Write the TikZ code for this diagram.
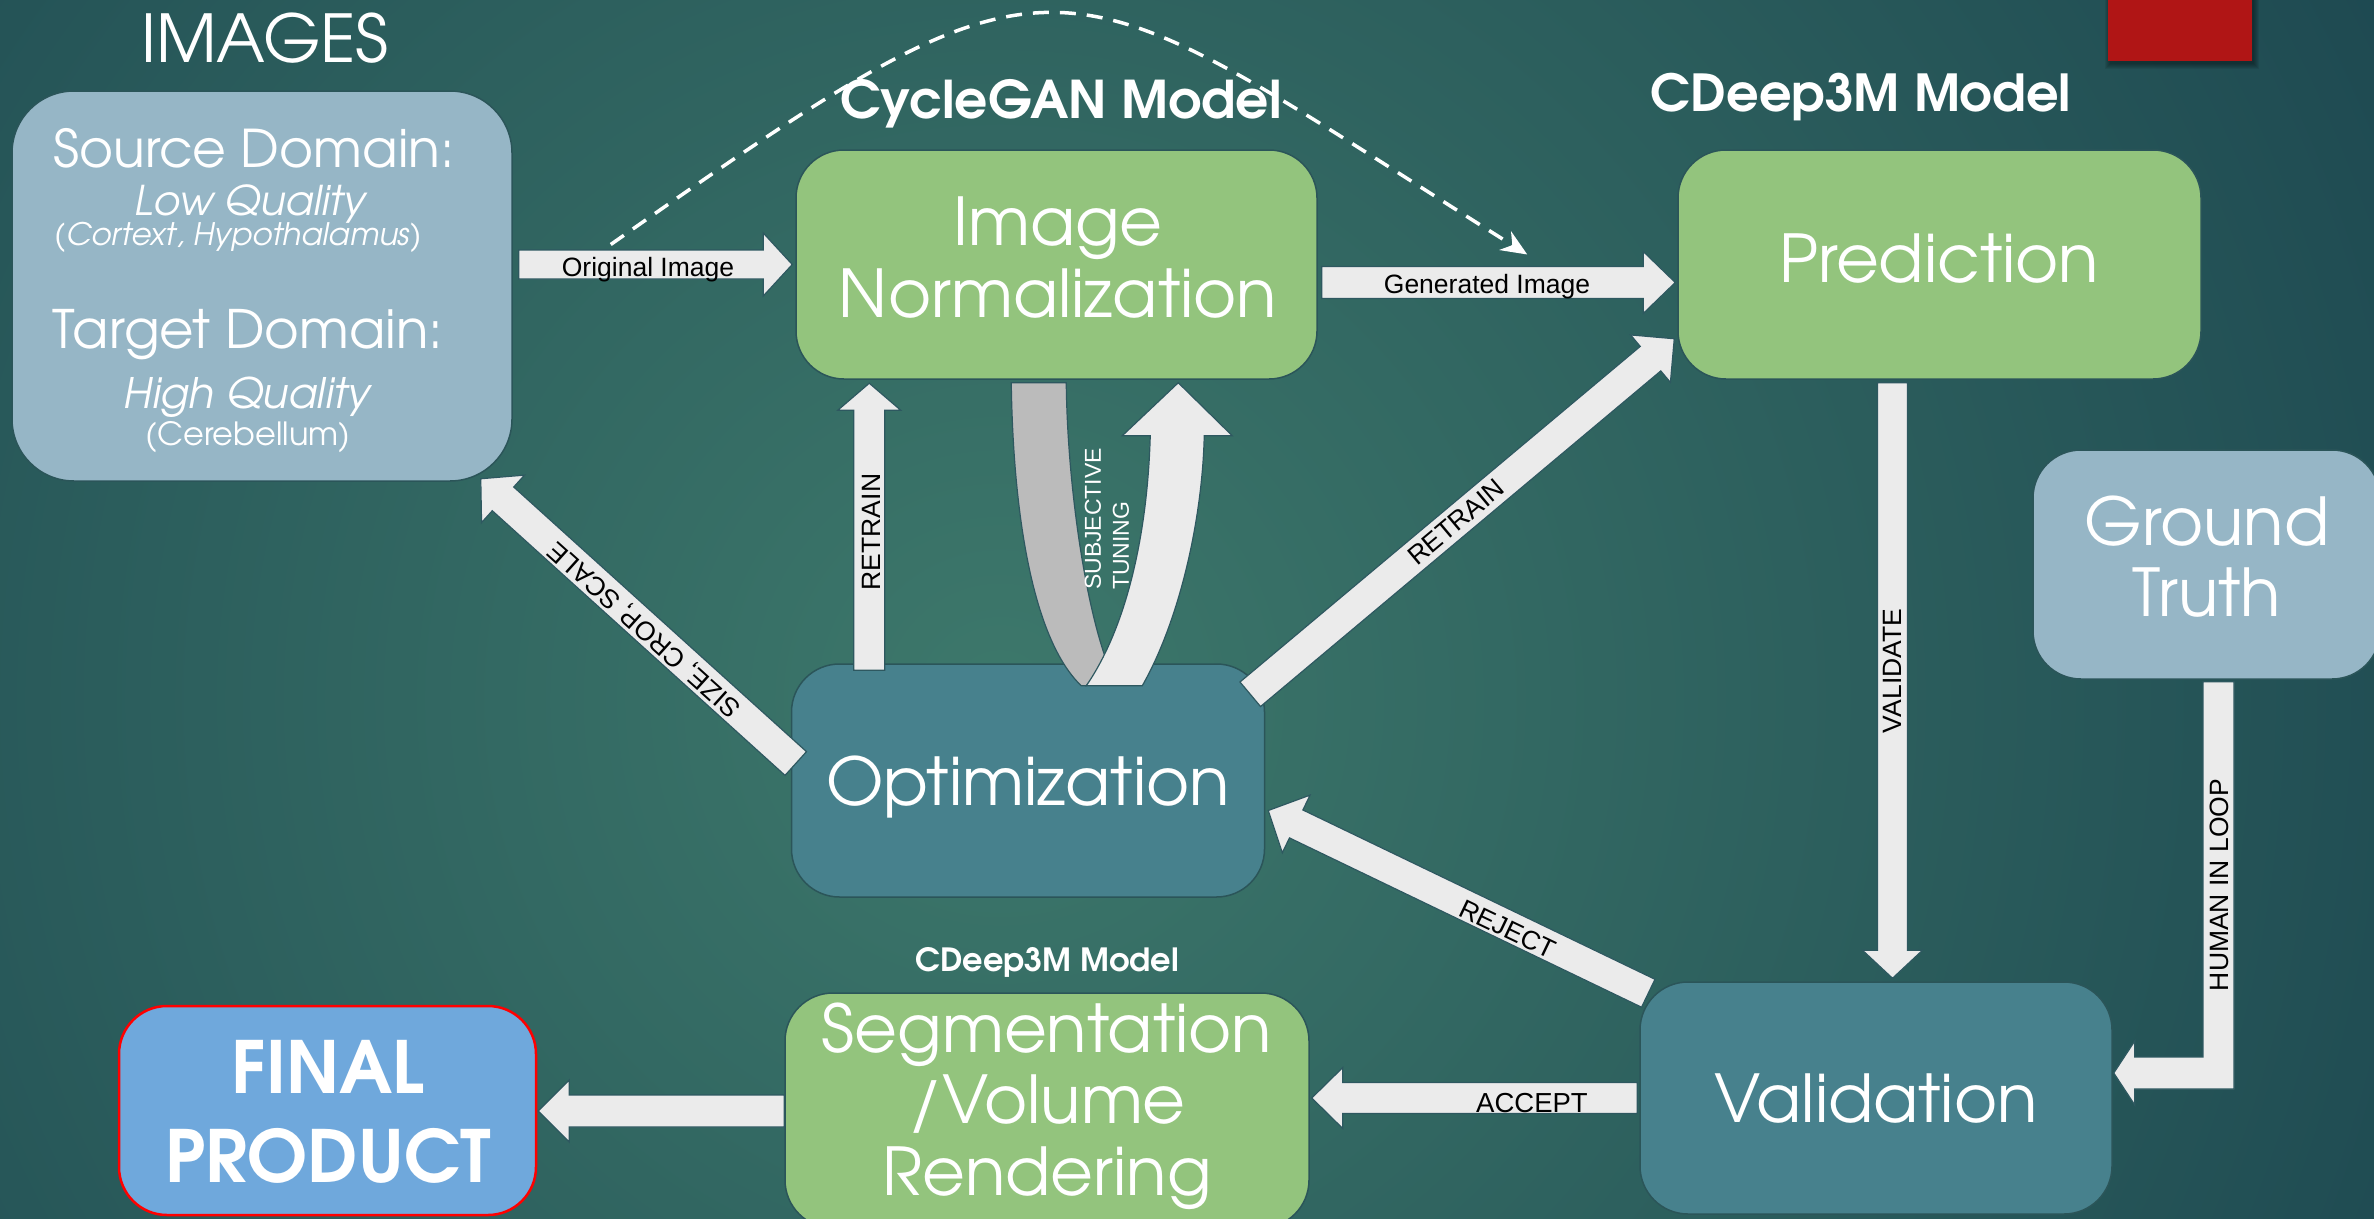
\documentclass[tikz,border=0pt]{standalone}
\usepackage{fontspec}
\setmainfont{texgyreadventor}[Extension=.otf, UprightFont=*-regular, BoldFont=*-bold, ItalicFont=*-italic, BoldItalicFont=*-bolditalic]
\newfontfamily\labelfont{Liberation Sans}
\usetikzlibrary{calc,arrows.meta}

\definecolor{bgdark}{HTML}{153C4A}
\definecolor{bglight}{HTML}{3D786B}
\definecolor{slate}{HTML}{96B6C6}
\definecolor{leaf}{HTML}{93C47D}
\definecolor{boxteal}{HTML}{47818D}
\definecolor{sky}{HTML}{6FA8DC}
\definecolor{boxline}{HTML}{2B5559}
\definecolor{arrowfill}{HTML}{EBEBEB}
\definecolor{arrowline}{HTML}{2E5860}
\definecolor{backband}{HTML}{BBBBBB}
\definecolor{banner}{HTML}{B01515}

\newcommand\fsz[1]{\fontsize{#1}{#1}\selectfont}

% block arrow: #1 tail, #2 tip, #3 half shaft width, #4 half head width, #5 head length
\newcommand\blockarrow[5]{%
  \path ($(#2)!#5!(#1)$) coordinate (ba-neck);
  \draw[arrowbody] ($(#1)!#3!90:(#2)$) -- ($(ba-neck)!#3!90:(#2)$)
    -- ($(ba-neck)!#4!90:(#2)$) -- (#2) -- ($(ba-neck)!#4!-90:(#2)$)
    -- ($(ba-neck)!#3!-90:(#2)$) -- ($(#1)!#3!-90:(#2)$) -- cycle;
}

\tikzset{
  box/.style={draw=boxline, line width=1.5pt, rounded corners=48pt, inner sep=0pt},
  boxtxt/.style={text=white, inner sep=0pt, anchor=base},
  lbl/.style={text=black, inner sep=0pt, font=\labelfont\fsz{26.5}},
  arrowbody/.style={fill=arrowfill, draw=arrowline, line width=1.2pt, line join=miter},
  dashline/.style={white, line width=3.5pt, dash pattern=on 16pt off 11pt,
    -{Stealth[length=26pt,width=22pt]}},
}

\begin{document}
\begin{tikzpicture}[x=1pt,y=-1pt]
\useasboundingbox (0,0) rectangle (2374,1218);

% background
\fill[bgdark] (0,0) rectangle (2374,1218);
\begin{scope}
  \clip (0,0) rectangle (2374,1218);
  \shade[inner color=bglight, outer color=bgdark] (1000,700) circle (2000);
\end{scope}

% red banner in the corner
\foreach \i in {1,...,6}
  \fill[black, opacity=0.07] (2108-\i+3,0) rectangle (2252+\i+1,61+\i+2);
\fill[banner] (2108,0) rectangle (2252,61);

% headings
\node[boxtxt, font=\fsz{66}] (title) at (265,62) {IMAGES};
\node[boxtxt, font=\bfseries\fsz{52}] (ganhead) at (1061,118) {CycleGAN Model};
\node[boxtxt, font=\bfseries\fsz{51}] (cdhead) at (1861,111) {CDeep3M Model};
\node[boxtxt, font=\bfseries\fsz{32}] (cdhead2) at (1047,971) {CDeep3M Model};

% boxes
\node[box, fill=slate, minimum width=500pt, minimum height=390pt, rounded corners=62pt] (img) at (262,286) {};
\node[box, fill=leaf, minimum width=521pt, minimum height=229pt] (norm) at (1056.5,264.5) {};
\node[box, fill=leaf, minimum width=523pt, minimum height=229pt] (pred) at (1939.5,264.5) {};
\node[box, fill=slate, minimum width=347pt, minimum height=229pt] (gt) at (2206.5,564.5) {};
\node[box, fill=boxteal, minimum width=473pt, minimum height=233pt] (opt) at (1028,780.5) {};
\node[box, fill=boxteal, minimum width=472pt, minimum height=232pt] (val) at (1876,1098) {};
\node[box, fill=leaf, minimum width=524pt, minimum height=235pt] (seg) at (1047,1110.5) {};
\node[box, fill=sky, draw=red, line width=2.5pt, minimum width=417pt, minimum height=209pt] (fin) at (327.5,1110.5) {};

% box texts
\node[boxtxt, font=\fsz{52}] (imgA) at (254,167) {Source Domain:};
\node[boxtxt, font=\itshape\fsz{41}] (imgB) at (250,215) {Low Quality};
\node[boxtxt, font=\itshape\fsz{31}] (imgC) at (238,245) {(Cortext, Hypothalamus)};
\node[boxtxt, font=\fsz{53}] (imgD) at (248,348) {Target Domain:};
\node[boxtxt, font=\itshape\fsz{42}] (imgE) at (247,408) {High Quality};
\node[boxtxt, font=\fsz{32}] (imgF) at (248,445) {(Cerebellum)};

\node[boxtxt, font=\fsz{66}] (normA) at (1058,245) {Image};
\node[boxtxt, font=\fsz{66}] (normB) at (1058,317) {Normalization};
\node[boxtxt, font=\fsz{66}] (predA) at (1939,282) {Prediction};
\node[boxtxt, font=\fsz{66}] (gtA) at (2207,545) {Ground};
\node[boxtxt, font=\fsz{66}] (gtB) at (2207,616) {Truth};
\node[boxtxt, font=\fsz{66}] (optA) at (1028,805) {Optimization};
\node[boxtxt, font=\fsz{66}] (valA) at (1876,1122) {Validation};
\node[boxtxt, font=\fsz{66}] (segA) at (1047,1052) {Segmentation};
\node[boxtxt, font=\fsz{66}] (segB) at (1047,1123) {/Volume};
\node[boxtxt, font=\fsz{66}] (segC) at (1047,1195) {Rendering};
\node[boxtxt, font=\bfseries\fsz{72}] (finA) at (328,1093) {FINAL};
\node[boxtxt, font=\bfseries\fsz{72}] (finB) at (328,1182) {PRODUCT};

% straight block arrows
\coordinate (origT) at ($(img.east |- norm.west)+(6,0)$);
\coordinate (origH) at ($(norm.west)+(-3,0)$);
\blockarrow{origT}{origH}{14.5pt}{31.5pt}{29pt}

\coordinate (genT) at ($(norm.east)+(4,18)$);
\coordinate (genH) at ($(pred.west)+(-2,18)$);
\blockarrow{genT}{genH}{16pt}{31pt}{32pt}

\coordinate (rt1T) at ($(opt.north west)+(78.5,7)$);
\coordinate (rt1H) at ($(norm.south west)+(74,3.5)$);
\blockarrow{rt1T}{rt1H}{15.5pt}{31.5pt}{27pt}

\coordinate (sizeT) at ($(opt.west)+(5,-17)$);
\coordinate (sizeH) at ($(img.south east)+(-32,-3)$);
\blockarrow{sizeT}{sizeH}{16pt}{32pt}{30pt}

\coordinate (rt2T) at ($(opt.north east)+(-15,31)$);
\coordinate (rt2H) at ($(pred.south west)+(-3,-41)$);
\blockarrow{rt2T}{rt2H}{16pt}{31pt}{31pt}

\coordinate (valT) at ($(pred.south)+(-47,3)$);
\coordinate (valH) at ($(val.north)+(16.5,-3)$);
\blockarrow{valT}{valH}{15pt}{30pt}{28pt}

\coordinate (rejT) at ($(val.north west)+(9,12)$);
\coordinate (rejH) at ($(opt.east)+(3,30)$);
\blockarrow{rejT}{rejH}{15.5pt}{32pt}{31pt}

\coordinate (accT) at ($(val.west)+(-2,0)$);
\coordinate (accH) at ($(seg.east |- val.west)+(2,0)$);
\blockarrow{accT}{accH}{15.5pt}{30.5pt}{31pt}

\coordinate (finT) at ($(seg.west)+(0,0.5)$);
\coordinate (finH) at ($(fin.east)+(1,0.5)$);
\blockarrow{finT}{finH}{16pt}{31pt}{31pt}

% elbow arrow from the ground truth into validation
\coordinate (humT) at ($(gt.south)+(12,2)$);
\coordinate (humH) at ($(val.east)+(1,-25)$);
\draw[arrowbody] ($(humT)+(-15.5,0)$) -- ($(humT |- humH)+(-15.5,-16)$)
  -- ($(humH)+(21,-16)$) -- ($(humH)+(21,-32)$) -- (humH) -- ($(humH)+(21,32)$)
  -- ($(humH)+(21,16)$) -- ($(humT |- humH)+(15.5,16)$) -- ($(humT)+(15.5,0)$) -- cycle;

% U-turn arrow for subjective tuning
\begin{scope}[shift={(norm.south west)}]
  \draw[fill=backband, draw=arrowline, line width=1.2pt]
    (216,3) .. controls (218,141) and (239,261) .. (286,306) -- (291,306)
    -- (312,283) .. controls (289,221) and (272,101) .. (271,3) -- cycle;
  \draw[arrowbody]
    (291,306) -- (347,306) .. controls (384,241) and (407,141) .. (409,56)
    -- (437,56) -- (383,3) -- (327,56) -- (355,56)
    .. controls (352,161) and (329,251) .. (291,306) -- cycle;
\end{scope}

% dashed shortcut from the source image to the prediction input
\coordinate (dashA) at ($(origT)+(92,-20)$);
\coordinate (dashB) at ($(genH)+(-148,-28)$);
\draw[dashline] (dashA) .. controls (1076,-82) and (1045,-48) .. (dashB);

% arrow labels
\node[lbl, anchor=base] (lOrig) at (648,276) {Original Image};
\node[lbl, anchor=base] (lGen) at (1487,293) {Generated Image};
\node[lbl, rotate=90] (lRt1) at (871,532) {RETRAIN};
\node[lbl, rotate=138] (lSize) at (645,629) {SIZE, CROP, SCALE};
\node[lbl, rotate=40] (lRt2) at (1456,522) {RETRAIN};
\node[lbl, rotate=90] (lVal) at (1892,671) {VALIDATE};
\node[lbl, rotate=90] (lHum) at (2219,885) {HUMAN IN LOOP};
\node[lbl, rotate=-25.5] (lRej) at (1508,929) {REJECT};
\node[lbl, anchor=base, font=\labelfont\fsz{27.5}] (lAcc) at (1532,1112) {ACCEPT};
\node[lbl, text=white, font=\labelfont\fontsize{23}{28}\selectfont, align=left, rotate=90] (lSub) at (1107,519) {SUBJECTIVE\\TUNING};

\end{tikzpicture}
\end{document}
